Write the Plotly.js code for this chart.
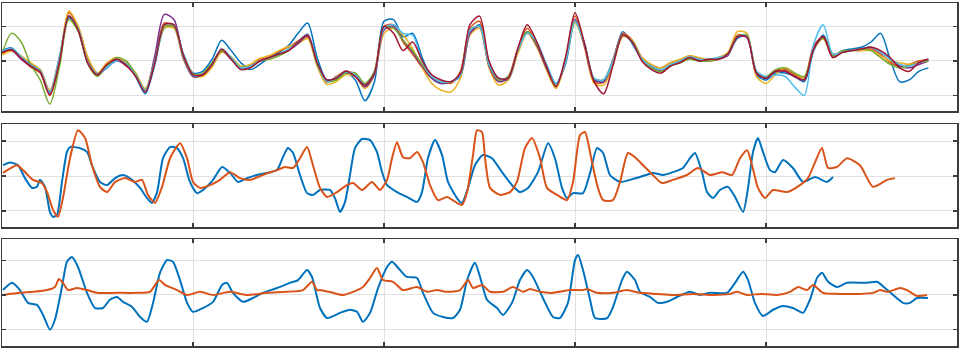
<!DOCTYPE html>
<html>
<head>
<meta charset="utf-8">
<script src="https://cdn.plot.ly/plotly-3.0.1.min.js"></script>
<style>
  html, body { margin: 0; padding: 0; background: #fff; }
  #plot { width: 961px; height: 350px; }
</style>
</head>
<body>
<div id="plot"></div>
<script>
// --- top panel: repeated trials on a shared time base (s)
const t = [
  0.00,0.05,0.10,0.15,0.20,0.25,0.30,0.35,0.40,0.45,
  0.50,0.55,0.60,0.65,0.70,0.75,0.80,0.85,0.90,0.95,
  1.00,1.05,1.10,1.15,1.20,1.25,1.30,1.35,1.40,1.45,
  1.50,1.55,1.60,1.65,1.70,1.75,1.80,1.85,1.90,1.95,
  2.00,2.05,2.10,2.15,2.20,2.25,2.30,2.35,2.40,2.45,
  2.50,2.55,2.60,2.65,2.70,2.75,2.80,2.85,2.90,2.95,
  3.00,3.05,3.10,3.15,3.20,3.25,3.30,3.35,3.40,3.45,
  3.50,3.55,3.60,3.65,3.70,3.75,3.80,3.85,3.90,3.95,
  4.00,4.05,4.10,4.15,4.20,4.25,4.30,4.35,4.40,4.45,
  4.50,4.55,4.60,4.65,4.70,4.75,4.80,4.85
];

const trial1 = [
  0.30,0.38,0.12,-0.10,-0.25,-0.90,0.10,1.25,0.95,0.05,
  -0.35,-0.20,0.05,-0.05,-0.45,-0.95,-0.10,0.95,1.00,0.20,
  -0.35,-0.30,0.05,0.60,0.30,-0.05,-0.25,-0.10,0.10,0.25,
  0.45,0.80,1.10,0.10,-0.55,-0.50,-0.35,-0.55,-1.15,-0.60,
  1.15,1.20,0.70,0.80,0.10,-0.50,-0.65,-0.60,-0.45,0.80,
  1.05,-0.05,-0.50,-0.55,0.25,0.85,0.50,-0.10,-0.65,-0.10,
  1.15,0.50,-0.55,-0.55,0.05,0.85,0.50,0.05,-0.20,-0.30,
  -0.15,0.00,0.10,0.05,0.00,0.10,0.20,0.65,0.75,-0.40,
  -0.55,-0.35,-0.35,-0.45,-0.60,0.30,0.75,0.15,0.30,0.35,
  0.40,0.55,0.80,0.05,-0.60,-0.55,-0.30,-0.20
];
const trial2 = [
  0.22,0.32,0.08,-0.18,-0.35,-1.00,-0.10,1.40,0.95,0.00,
  -0.42,-0.12,0.05,-0.15,-0.40,-0.85,0.05,1.10,1.00,0.05,
  -0.45,-0.42,-0.15,0.28,0.05,-0.20,-0.12,0.05,0.15,0.28,
  0.40,0.58,0.70,-0.10,-0.62,-0.45,-0.30,-0.40,-0.75,-0.30,
  1.00,1.05,0.55,0.20,-0.20,-0.50,-0.58,-0.65,-0.30,0.95,
  1.15,-0.10,-0.55,-0.45,0.35,0.95,0.45,-0.20,-0.75,0.05,
  1.30,0.40,-0.60,-0.62,0.05,0.80,0.60,0.10,-0.12,-0.20,
  -0.05,0.02,0.15,0.08,0.00,0.05,0.22,0.75,0.70,-0.30,
  -0.50,-0.28,-0.25,-0.40,-0.50,0.45,0.70,0.20,0.25,0.30,
  0.30,0.35,0.20,-0.05,-0.15,-0.10,0.00,0.05
];
const trial3 = [
  0.18,0.28,0.15,-0.05,-0.25,-0.85,0.05,1.45,1.00,0.10,
  -0.35,-0.05,0.10,-0.05,-0.35,-0.80,0.05,0.95,0.95,0.15,
  -0.38,-0.45,-0.18,0.25,0.12,-0.15,-0.10,0.08,0.15,0.30,
  0.42,0.50,0.65,-0.15,-0.68,-0.60,-0.40,-0.45,-0.80,-0.40,
  0.80,0.95,0.75,0.35,-0.20,-0.65,-0.85,-0.90,-0.50,0.75,
  0.95,-0.20,-0.70,-0.55,0.20,0.80,0.40,-0.25,-0.80,-0.05,
  1.10,0.45,-0.65,-0.70,-0.10,0.70,0.60,0.10,-0.10,-0.20,
  -0.05,0.05,0.15,0.10,0.05,0.10,0.25,0.85,0.80,-0.45,
  -0.65,-0.40,-0.20,-0.35,-0.50,0.35,0.65,0.10,0.25,0.30,
  0.30,0.30,0.15,0.00,-0.05,-0.10,-0.05,0.00
];
const trial4 = [
  0.25,0.32,0.05,-0.15,-0.32,-0.95,-0.05,1.30,0.85,-0.05,
  -0.40,-0.18,0.00,-0.12,-0.40,-0.90,0.15,1.35,1.20,0.10,
  -0.45,-0.40,-0.08,0.30,0.05,-0.22,-0.18,0.00,0.10,0.20,
  0.30,0.50,0.72,-0.05,-0.55,-0.50,-0.30,-0.45,-0.75,-0.40,
  0.90,1.00,0.60,0.25,-0.15,-0.50,-0.65,-0.60,-0.40,0.80,
  1.00,-0.15,-0.60,-0.50,0.30,0.85,0.45,-0.20,-0.70,-0.05,
  1.20,0.45,-0.55,-0.60,0.00,0.75,0.55,0.05,-0.18,-0.28,
  -0.12,-0.05,0.10,0.00,0.05,0.05,0.15,0.70,0.68,-0.35,
  -0.50,-0.30,-0.30,-0.45,-0.55,0.40,0.70,0.10,0.25,0.30,
  0.35,0.40,0.25,0.05,-0.15,-0.20,-0.10,0.00
];
const trial5 = [
  0.20,0.80,0.55,-0.10,-0.55,-1.25,-0.20,1.20,0.85,-0.10,
  -0.45,-0.15,0.10,0.00,-0.38,-0.85,0.00,1.00,1.00,0.10,
  -0.40,-0.35,-0.05,0.30,0.10,-0.18,-0.15,0.00,0.05,0.15,
  0.30,0.55,0.75,-0.10,-0.60,-0.55,-0.35,-0.35,-0.65,-0.30,
  0.95,0.95,0.60,0.30,-0.10,-0.45,-0.60,-0.60,-0.35,0.90,
  1.00,-0.10,-0.55,-0.45,0.30,0.85,0.50,-0.15,-0.70,0.00,
  1.15,0.50,-0.50,-0.55,0.00,0.75,0.55,0.05,-0.20,-0.30,
  -0.15,-0.05,0.05,0.00,0.00,0.05,0.20,0.70,0.75,-0.30,
  -0.45,-0.25,-0.20,-0.35,-0.45,0.35,0.65,0.15,0.30,0.30,
  0.35,0.30,0.10,-0.10,-0.20,-0.15,-0.05,0.00
];
const trial6 = [
  0.28,0.36,0.12,-0.12,-0.28,-0.92,0.05,1.30,0.92,-0.05,
  -0.38,-0.18,0.00,-0.08,-0.42,-0.85,0.00,1.05,1.05,0.12,
  -0.42,-0.38,-0.12,0.35,0.10,-0.20,-0.15,0.00,0.10,0.20,
  0.35,0.55,0.78,-0.05,-0.60,-0.48,-0.32,-0.40,-0.70,-0.35,
  0.95,1.05,0.80,0.75,0.00,-0.45,-0.60,-0.60,-0.40,0.90,
  1.00,-0.10,-0.50,-0.50,0.30,0.80,0.55,-0.10,-0.65,-0.05,
  1.15,0.50,-0.50,-0.55,0.00,0.75,0.55,0.05,-0.15,-0.25,
  -0.10,0.00,0.12,0.05,0.05,0.10,0.20,0.70,0.72,-0.30,
  -0.45,-0.40,-0.45,-0.75,-1.00,0.50,1.05,0.20,0.25,0.30,
  0.35,0.40,0.25,0.05,-0.10,-0.15,-0.05,0.05
];
const trial7 = [
  0.24,0.33,0.08,-0.15,-0.32,-0.98,-0.05,1.30,0.88,-0.08,
  -0.40,-0.10,0.05,-0.12,-0.45,-0.90,-0.05,1.05,1.05,0.15,
  -0.40,-0.40,-0.10,0.35,0.05,-0.25,-0.20,0.00,0.10,0.20,
  0.30,0.55,0.75,-0.05,-0.55,-0.50,-0.30,-0.45,-0.70,-0.35,
  1.00,0.80,0.30,0.55,0.00,-0.40,-0.55,-0.60,-0.35,1.05,
  1.30,0.00,-0.50,-0.50,0.35,1.05,0.55,-0.15,-0.75,0.10,
  1.40,0.50,-0.60,-0.95,-0.10,0.75,0.55,0.00,-0.25,-0.35,
  -0.15,-0.05,0.10,0.00,0.05,0.05,0.20,0.70,0.70,-0.35,
  -0.50,-0.30,-0.30,-0.45,-0.55,0.35,0.70,0.10,0.25,0.30,
  0.35,0.40,0.30,0.10,-0.20,-0.30,-0.05,0.05
];

// --- middle panel: [time, value]
const midBlue = [
  [0.005,0.31],[0.042,0.39],[0.084,0.31],[0.120,-0.06],[0.157,-0.34],[0.183,-0.31],[0.199,-0.11],[0.225,-0.31],
  [0.251,-1.03],[0.267,-1.17],[0.288,-1.11],[0.314,-0.17],[0.340,0.69],[0.356,0.83],[0.408,0.80],[0.445,0.69],
  [0.476,0.23],[0.513,-0.17],[0.550,-0.26],[0.592,-0.06],[0.634,0.03],[0.681,-0.11],[0.723,-0.34],[0.759,-0.63],
  [0.785,-0.77],[0.812,-0.46],[0.843,0.51],[0.880,0.83],[0.916,0.80],[0.948,0.51],[0.984,-0.17],[1.021,-0.49],
  [1.052,-0.40],[1.105,-0.11],[1.152,0.26],[1.194,0.09],[1.236,-0.17],[1.283,-0.06],[1.335,0.03],[1.387,0.09],
  [1.440,0.17],[1.471,0.54],[1.497,0.80],[1.524,0.66],[1.560,0.03],[1.597,-0.49],[1.628,-0.54],[1.665,-0.40],
  [1.717,-0.40],[1.743,-0.63],[1.770,-1.03],[1.796,-0.74],[1.822,0.03],[1.848,0.80],[1.885,1.06],[1.927,1.03],
  [1.963,0.69],[1.990,0.11],[2.016,-0.26],[2.068,-0.46],[2.120,-0.60],[2.173,-0.74],[2.199,-0.46],[2.230,0.51],
  [2.267,1.03],[2.304,0.60],[2.335,-0.17],[2.382,-0.63],[2.408,-0.77],[2.440,-0.34],[2.476,0.31],[2.518,0.60],
  [2.565,0.51],[2.618,0.11],[2.670,-0.26],[2.712,-0.46],[2.754,-0.34],[2.806,0.11],[2.859,0.94],[2.895,0.51],
  [2.932,-0.34],[2.958,-0.63],[2.990,-0.49],[3.042,-0.49],[3.079,0.09],[3.115,0.80],[3.147,0.66],[3.183,0.03],
  [3.236,-0.17],[3.288,-0.11],[3.340,-0.03],[3.408,0.09],[3.461,0.03],[3.513,0.11],[3.565,0.23],[3.602,0.51],
  [3.628,0.66],[3.665,0.11],[3.691,-0.46],[3.723,-0.63],[3.759,-0.40],[3.801,-0.31],[3.838,-0.60],[3.880,-1.03],
  [3.906,-0.34],[3.932,0.69],[3.958,1.09],[3.984,0.69],[4.021,0.17],[4.047,0.11],[4.089,0.46],[4.141,0.23],
  [4.194,-0.17],[4.257,-0.03],[4.319,-0.17],[4.351,-0.03]
];
const midOrange = [
  [0.005,0.09],[0.079,0.31],[0.110,0.17],[0.162,-0.11],[0.209,-0.20],[0.236,-0.46],[0.267,-0.97],[0.293,-1.17],
  [0.319,-0.63],[0.356,0.51],[0.398,1.31],[0.435,1.09],[0.471,0.31],[0.513,-0.31],[0.550,-0.46],[0.592,-0.17],
  [0.644,-0.06],[0.696,-0.17],[0.733,-0.11],[0.764,-0.54],[0.801,-0.77],[0.838,-0.31],[0.880,0.51],[0.932,0.94],
  [0.969,0.51],[1.000,-0.17],[1.037,-0.34],[1.089,-0.26],[1.141,-0.11],[1.194,0.11],[1.246,-0.06],[1.298,-0.11],
  [1.366,0.03],[1.440,0.17],[1.482,0.26],[1.524,0.23],[1.560,0.51],[1.597,0.83],[1.628,0.31],[1.665,-0.34],
  [1.702,-0.60],[1.754,-0.46],[1.806,-0.26],[1.838,-0.20],[1.885,-0.40],[1.937,-0.17],[1.979,-0.40],[2.016,-0.11],
  [2.042,0.51],[2.068,0.97],[2.099,0.54],[2.136,0.51],[2.173,0.69],[2.204,0.40],[2.241,-0.26],[2.283,-0.69],
  [2.330,-0.60],[2.382,-0.77],[2.408,-0.83],[2.435,-0.46],[2.466,0.60],[2.487,1.31],[2.513,1.26],[2.529,0.51],
  [2.555,-0.34],[2.607,-0.54],[2.660,-0.46],[2.696,-0.17],[2.738,0.80],[2.775,1.09],[2.817,0.51],[2.853,-0.34],
  [2.906,-0.54],[2.958,-0.69],[2.990,-0.17],[3.026,1.17],[3.052,1.26],[3.089,0.40],[3.120,-0.34],[3.147,-0.69],
  [3.199,-0.69],[3.236,-0.17],[3.277,0.66],[3.314,0.54],[3.340,0.40],[3.393,0.11],[3.455,-0.20],[3.513,-0.11],
  [3.586,0.03],[3.644,0.23],[3.707,0.03],[3.770,0.11],[3.822,0.03],[3.864,0.51],[3.901,0.74],[3.927,0.31],
  [3.958,-0.34],[3.995,-0.63],[4.037,-0.40],[4.110,-0.46],[4.178,-0.26],[4.220,-0.06],[4.257,0.40],[4.293,0.80],
  [4.325,0.23],[4.372,0.26],[4.424,0.51],[4.492,0.31],[4.560,-0.31],[4.634,-0.11],[4.675,-0.06]
];

// --- bottom panel: [time, value]
const lowBlue = [
  [0.005,0.14],[0.052,0.35],[0.094,0.14],[0.136,-0.23],[0.183,-0.29],[0.215,-0.58],[0.251,-1.01],[0.277,-0.72],
  [0.314,0.23],[0.340,0.96],[0.366,1.10],[0.398,0.81],[0.445,0.06],[0.487,-0.38],[0.529,-0.38],[0.565,-0.14],
  [0.602,-0.06],[0.634,-0.20],[0.681,-0.35],[0.723,-0.64],[0.759,-0.78],[0.791,-0.23],[0.827,0.64],[0.864,1.01],
  [0.895,0.96],[0.932,0.43],[0.969,-0.23],[1.000,-0.49],[1.052,-0.38],[1.105,-0.20],[1.152,0.29],[1.178,0.35],
  [1.209,0.06],[1.262,-0.20],[1.314,-0.09],[1.366,0.06],[1.440,0.20],[1.508,0.35],[1.550,0.43],[1.597,0.72],
  [1.623,0.52],[1.649,-0.06],[1.665,-0.38],[1.702,-0.67],[1.770,-0.52],[1.822,-0.43],[1.859,-0.49],[1.890,-0.78],
  [1.927,-0.52],[1.969,0.20],[2.016,0.81],[2.042,0.96],[2.084,0.72],[2.120,0.52],[2.173,0.49],[2.204,0.06],
  [2.257,-0.52],[2.309,-0.64],[2.361,-0.67],[2.398,-0.43],[2.435,0.43],[2.476,0.93],[2.503,0.52],[2.539,-0.14],
  [2.592,-0.38],[2.623,-0.58],[2.670,-0.23],[2.712,0.43],[2.749,0.72],[2.780,0.52],[2.832,-0.09],[2.885,-0.64],
  [2.921,-0.67],[2.963,-0.23],[3.000,1.01],[3.016,1.16],[3.042,0.72],[3.079,-0.14],[3.105,-0.67],[3.168,-0.67],
  [3.199,-0.35],[3.246,0.43],[3.272,0.67],[3.314,0.43],[3.340,0.09],[3.393,-0.06],[3.435,-0.23],[3.482,-0.20],
  [3.534,-0.06],[3.602,0.09],[3.654,0.00],[3.707,0.06],[3.796,0.06],[3.838,0.35],[3.880,0.67],[3.906,0.43],
  [3.942,-0.23],[3.984,-0.61],[4.037,-0.43],[4.089,-0.32],[4.141,-0.38],[4.194,-0.52],[4.230,-0.14],[4.267,0.49],
  [4.293,0.64],[4.325,0.38],[4.372,0.23],[4.424,0.35],[4.529,0.35],[4.581,0.38],[4.623,0.20],[4.665,0.00],
  [4.717,-0.23],[4.754,-0.23],[4.791,-0.09],[4.848,-0.09]
];
const lowOrange = [
  [0.005,0.00],[0.094,0.06],[0.162,0.09],[0.236,0.14],[0.277,0.23],[0.298,0.46],[0.319,0.35],[0.346,0.14],
  [0.393,0.20],[0.445,0.14],[0.497,0.06],[0.602,0.06],[0.707,0.06],[0.775,0.09],[0.822,0.43],[0.853,0.29],
  [0.916,0.14],[0.969,0.00],[1.037,0.09],[1.105,0.00],[1.194,0.09],[1.283,0.00],[1.387,0.06],[1.492,0.09],
  [1.576,0.14],[1.623,0.38],[1.649,0.14],[1.665,0.14],[1.733,0.06],[1.785,0.00],[1.838,0.09],[1.890,0.23],
  [1.927,0.49],[1.963,0.78],[1.995,0.43],[2.047,0.38],[2.099,0.14],[2.173,0.23],[2.225,0.09],[2.277,0.14],
  [2.330,0.09],[2.398,0.14],[2.440,0.43],[2.466,0.20],[2.513,0.29],[2.555,0.09],[2.623,0.09],[2.675,0.23],
  [2.728,0.09],[2.764,0.17],[2.817,0.09],[2.885,0.06],[2.974,0.14],[3.042,0.14],[3.063,0.17],[3.115,0.06],
  [3.199,0.06],[3.272,0.14],[3.340,0.06],[3.429,0.03],[3.513,0.00],[3.618,0.03],[3.723,0.00],[3.812,0.03],
  [3.848,0.09],[3.901,0.00],[3.969,0.03],[4.058,0.00],[4.126,0.09],[4.168,0.23],[4.215,0.14],[4.246,0.29],
  [4.298,0.06],[4.387,0.03],[4.492,0.03],[4.560,0.06],[4.597,0.14],[4.639,0.09],[4.702,0.20],[4.738,0.14],
  [4.791,-0.03],[4.843,0.00]
];

// MATLAB default line order
const lineColors = ['#0072BD', '#D95319', '#EDB120', '#7E2F8E', '#77AC30', '#4DBEEE', '#A2142F'];

const trials = [trial1, trial2, trial3, trial4, trial5, trial6, trial7];
const traces = [];

trials.forEach((y, i) => {
  traces.push({
    x: t, y: y, xaxis: 'x', yaxis: 'y',
    mode: 'lines', type: 'scatter',
    line: { color: lineColors[i], width: 1.5, shape: 'spline', smoothing: 0.8 },
    hoverinfo: 'skip'
  });
});

function pairTrace(pairs, color, ax) {
  return {
    x: pairs.map(p => p[0]),
    y: pairs.map(p => p[1]),
    xaxis: 'x' + ax, yaxis: 'y' + ax,
    mode: 'lines', type: 'scatter',
    line: { color: color, width: 2, shape: 'spline', smoothing: 0.6 },
    hoverinfo: 'skip'
  };
}

traces.push(pairTrace(midBlue, lineColors[0], 2));
traces.push(pairTrace(midOrange, lineColors[1], 2));
traces.push(pairTrace(lowBlue, lineColors[0], 3));
traces.push(pairTrace(lowOrange, lineColors[1], 3));

const frameColor = '#3c3c3c';
const gridColor = '#e0e0e0';

function xAx(anchor) {
  return {
    domain: [2 / 961, 957 / 961], anchor: anchor,
    range: [0, 5], tick0: 0, dtick: 1,
    showgrid: true, gridcolor: gridColor, gridwidth: 1,
    zeroline: false, showticklabels: false,
    ticks: 'inside', ticklen: 4, tickcolor: frameColor, tickwidth: 1.5,
    showline: true, linecolor: frameColor, linewidth: 1.5, mirror: 'ticks'
  };
}

function yAx(anchor, domain, range) {
  return {
    domain: domain, anchor: anchor,
    range: range, tick0: 0, dtick: 1,
    showgrid: true, gridcolor: gridColor, gridwidth: 1,
    zeroline: false, showticklabels: false,
    ticks: 'inside', ticklen: 4, tickcolor: frameColor, tickwidth: 1.5,
    showline: true, linecolor: frameColor, linewidth: 1.5, mirror: 'ticks'
  };
}

const layout = {
  width: 961, height: 350,
  margin: { l: 0, r: 0, t: 0, b: 0 },
  paper_bgcolor: '#ffffff', plot_bgcolor: '#ffffff',
  showlegend: false,
  xaxis: xAx('y'),
  xaxis2: xAx('y2'),
  xaxis3: xAx('y3'),
  yaxis: yAx('x', [1 - 111 / 350, 1 - 3 / 350], [-1.45, 1.68]),
  yaxis2: yAx('x2', [1 - 227 / 350, 1 - 124 / 350], [-1.46, 1.49]),
  yaxis3: yAx('x3', [1 - 346 / 350, 1 - 239 / 350], [-1.48, 1.62])
};

Plotly.newPlot('plot', traces, layout, { displayModeBar: false, staticPlot: true });
</script>
</body>
</html>
